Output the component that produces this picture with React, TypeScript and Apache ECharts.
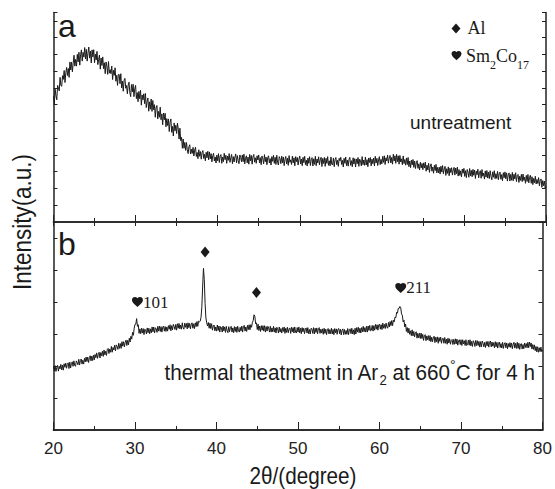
import React, { useEffect, useRef } from 'react';
import * as echarts from 'echarts';

// 2θ sampling: 20° .. 80°, every 0.1°
const TWO_THETA_START = 20;
const TWO_THETA_STEP = 0.1;

// (a) untreated sample intensity (a.u.) (one row per degree)
const untreated = [
  750, 706, 792, 753, 729, 815, 801, 782, 863, 814, // 20
  810, 873, 851, 904, 832, 890, 922, 874, 916, 863, // 21
  955, 907, 954, 896, 948, 995, 930, 970, 930, 1000, // 22
  955, 1013, 936, 999, 1027, 960, 1012, 984, 1041, 973, // 23
  1030, 960, 1009, 1044, 978, 1020, 949, 1027, 985, 1028, // 24
  950, 1001, 967, 1018, 939, 970, 996, 912, 978, 934, // 25
  985, 915, 950, 885, 955, 930, 881, 957, 888, 909, // 26
  885, 930, 850, 905, 875, 920, 840, 875, 815, 880, // 27
  880, 825, 885, 800, 840, 780, 846, 857, 798, 814, // 28
  765, 817, 834, 771, 748, 820, 776, 822, 748, 794, // 29
  815, 736, 772, 718, 779, 735, 786, 697, 758, 729, // 30
  765, 706, 767, 683, 719, 740, 661, 717, 673, 734, // 31
  660, 725, 670, 700, 625, 685, 695, 615, 660, 625, // 32
  685, 610, 645, 580, 650, 610, 649, 568, 617, 576, // 33
  615, 540, 595, 615, 535, 570, 513, 591, 544, 577, // 34
  528, 590, 555, 495, 560, 485, 505, 440, 495, 440, // 35
  475, 427, 474, 431, 408, 450, 461, 406, 434, 409, // 36
  445, 394, 429, 446, 391, 415, 378, 431, 392, 420, // 37
  375, 414, 426, 379, 404, 365, 416, 383, 422, 371, // 38
  418, 377, 408, 359, 396, 410, 364, 388, 352, 399, // 39
  365, 408, 355, 392, 402, 350, 388, 360, 410, 372, // 40
  398, 350, 393, 368, 408, 356, 383, 403, 348, 390, // 41
  358, 388, 406, 353, 396, 366, 348, 400, 386, 360, // 42
  400, 360, 405, 347, 380, 395, 353, 387, 345, 403, // 43
  365, 397, 345, 390, 403, 357, 383, 350, 395, 370, // 44
  400, 352, 384, 342, 394, 377, 347, 402, 360, 387, // 45
  342, 385, 395, 352, 378, 340, 390, 362, 398, 350, // 46
  386, 343, 398, 356, 340, 390, 378, 348, 393, 353, // 47
  388, 336, 374, 391, 346, 381, 338, 396, 356, 371, // 48
  343, 393, 353, 383, 335, 390, 360, 385, 340, 375, // 49
  394, 346, 376, 336, 386, 354, 392, 342, 369, 334, // 50
  382, 350, 390, 337, 372, 384, 334, 377, 344, 392, // 51
  336, 376, 353, 389, 341, 371, 386, 331, 379, 349, // 52
  385, 332, 380, 350, 390, 338, 365, 335, 388, 345, // 53
  340, 382, 330, 372, 385, 342, 368, 332, 380, 365, // 54
  386, 343, 368, 328, 380, 350, 388, 336, 370, 333, // 55
  373, 386, 338, 366, 330, 383, 346, 378, 328, 376, // 56
  348, 385, 332, 375, 365, 335, 390, 342, 370, 338, // 57
  388, 340, 372, 330, 382, 355, 385, 335, 375, 348, // 58
  382, 334, 392, 352, 380, 337, 370, 390, 342, 374, // 59
  347, 391, 356, 395, 343, 383, 364, 400, 351, 382, // 60
  397, 352, 385, 345, 404, 364, 395, 350, 403, 360, // 61
  395, 345, 397, 358, 377, 342, 394, 349, 373, 339, // 62
  382, 343, 385, 330, 364, 324, 369, 341, 373, 326, // 63
  363, 319, 353, 366, 320, 347, 310, 357, 323, 349, // 64
  312, 353, 322, 357, 303, 339, 311, 350, 296, 333, // 65
  347, 303, 328, 291, 338, 307, 344, 293, 326, 293, // 66
  327, 286, 333, 298, 337, 288, 316, 332, 278, 318, // 67
  290, 329, 276, 321, 295, 324, 280, 311, 326, 280, // 68
  322, 288, 327, 274, 313, 278, 305, 269, 316, 291, // 69
  320, 272, 306, 265, 313, 297, 267, 319, 276, 308, // 70
  270, 314, 279, 310, 260, 303, 282, 315, 264, 296, // 71
  306, 261, 313, 273, 292, 256, 305, 268, 307, 262, // 72
  297, 259, 306, 272, 252, 299, 267, 306, 258, 288, // 73
  260, 302, 252, 288, 298, 255, 283, 246, 294, 264, // 74
  299, 258, 293, 244, 281, 293, 245, 284, 249, 296, // 75
  246, 285, 257, 294, 241, 277, 284, 236, 273, 248, // 76
  284, 241, 286, 248, 267, 231, 278, 242, 284, 234, // 77
  267, 279, 231, 270, 223, 260, 234, 273, 227, 254, // 78
  230, 265, 216, 249, 257, 207, 247, 217, 244, 203, // 79
  215, // 80
];

// (b) after thermal treatment in Ar at 660 °C for 4 h (one row per degree)
const treated = [
  198, 185, 201, 183, 195, 202, 184, 199, 191, 205, // 20
  188, 203, 187, 207, 196, 209, 193, 205, 210, 192, // 21
  212, 194, 208, 213, 199, 216, 202, 199, 216, 211, // 22
  204, 221, 203, 217, 222, 206, 218, 206, 224, 213, // 23
  228, 214, 228, 211, 226, 232, 216, 231, 217, 234, // 24
  219, 236, 226, 241, 224, 236, 243, 225, 242, 232, // 25
  246, 230, 250, 235, 246, 233, 252, 255, 239, 253, // 26
  243, 261, 243, 258, 250, 265, 247, 266, 262, 252, // 27
  271, 255, 270, 255, 276, 262, 276, 260, 274, 281, // 28
  264, 280, 266, 287, 275, 293, 284, 305, 296, 318, // 29
  330, 331, 348, 324, 329, 302, 316, 301, 318, 303, // 30
  317, 298, 315, 313, 300, 319, 304, 318, 301, 316, // 31
  304, 322, 307, 322, 303, 319, 317, 305, 324, 309, // 32
  325, 308, 323, 306, 321, 325, 309, 323, 308, 322, // 33
  309, 326, 315, 329, 310, 326, 313, 330, 324, 314, // 34
  330, 312, 332, 318, 333, 316, 328, 315, 335, 319, // 35
  315, 334, 321, 333, 316, 335, 320, 333, 316, 331, // 36
  335, 318, 332, 317, 335, 323, 339, 324, 340, 338, // 37
  340, 352, 385, 450, 505, 470, 395, 350, 335, 325, // 38
  336, 318, 334, 317, 332, 312, 325, 328, 310, 322, // 39
  309, 328, 311, 325, 306, 323, 320, 306, 325, 310, // 40
  322, 305, 324, 310, 304, 323, 307, 320, 324, 306, // 41
  319, 304, 323, 308, 322, 305, 324, 310, 306, 321, // 42
  309, 325, 306, 323, 327, 309, 322, 308, 327, 314, // 43
  329, 313, 329, 321, 336, 342, 360, 356, 332, 335, // 44
  314, 331, 311, 325, 308, 326, 312, 326, 309, 326, // 45
  306, 323, 309, 324, 319, 306, 324, 306, 319, 307, // 46
  324, 306, 319, 303, 321, 316, 303, 322, 306, 317, // 47
  303, 320, 308, 322, 302, 318, 305, 321, 304, 316, // 48
  319, 302, 321, 307, 320, 303, 322, 306, 303, 320, // 49
  306, 322, 304, 318, 301, 320, 307, 318, 301, 316, // 50
  319, 303, 320, 301, 314, 300, 318, 316, 302, 320, // 51
  300, 318, 305, 319, 301, 317, 320, 302, 315, 303, // 52
  316, 299, 318, 302, 315, 298, 313, 317, 300, 314, // 53
  301, 318, 300, 314, 298, 317, 304, 316, 299, 315, // 54
  317, 301, 315, 297, 312, 316, 298, 314, 299, 311, // 55
  299, 317, 298, 314, 316, 301, 318, 300, 313, 298, // 56
  318, 300, 320, 306, 321, 304, 318, 303, 320, 307, // 57
  324, 307, 320, 306, 324, 306, 325, 311, 327, 310, // 58
  312, 327, 309, 326, 312, 330, 315, 329, 312, 328, // 59
  331, 315, 329, 314, 334, 318, 330, 317, 334, 322, // 60
  318, 336, 322, 339, 326, 342, 326, 343, 338, 353, // 61
  351, 368, 365, 380, 380, 386, 382, 363, 358, 338, // 62
  343, 322, 331, 308, 320, 303, 318, 299, 310, 295, // 63
  313, 294, 308, 291, 304, 307, 287, 302, 288, 302, // 64
  286, 303, 286, 299, 280, 295, 298, 279, 294, 282, // 65
  295, 279, 295, 276, 290, 276, 288, 293, 273, 290, // 66
  276, 291, 271, 289, 277, 290, 271, 285, 287, 271, // 67
  289, 271, 284, 268, 287, 272, 285, 268, 280, 283, // 68
  267, 283, 268, 285, 269, 284, 265, 279, 282, 267, // 69
  282, 264, 282, 269, 279, 264, 282, 264, 267, 281, // 70
  265, 282, 263, 277, 261, 279, 274, 261, 280, 264, // 71
  279, 264, 277, 259, 276, 260, 278, 271, 260, 274, // 72
  258, 276, 263, 277, 259, 274, 278, 260, 275, 262, // 73
  273, 257, 276, 260, 274, 256, 271, 275, 258, 270, // 74
  256, 274, 255, 269, 273, 257, 272, 254, 270, 259, // 75
  273, 258, 272, 254, 268, 274, 256, 271, 255, 274, // 76
  255, 271, 252, 268, 270, 253, 267, 254, 272, 258, // 77
  270, 257, 274, 257, 275, 261, 272, 253, 267, 252, // 78
  266, 248, 261, 244, 260, 243, 257, 245, 259, 245, // 79
  250, // 80
];

// Peak annotations in panel (b): [2θ, intensity, label, marker]
const peakMarks: [number, number, string, 'heart' | 'diamond'][] = [
  [30.3, 400, '101', 'heart'],
  [38.6, 556, '', 'diamond'],
  [44.9, 430, '', 'diamond'],
  [62.6, 444, '211', 'heart'],
];

const HEART_D =
  'M12 21.35L10.55 20.03C5.4 15.36 2 12.28 2 8.5C2 5.42 4.42 3 7.5 3C9.24 3 10.91 3.81 12 5.09C13.09 3.81 14.76 3 16.5 3C19.58 3 22 5.42 22 8.5C22 12.28 18.6 15.36 13.45 20.04Z';

echarts.graphic.registerShape('heart', echarts.graphic.extendPath(HEART_D, {}));

const SANS = 'Liberation Sans';
const SERIF = 'Liberation Serif';
const INK = '#1a1a1a';

const toPairs = (vals: number[]) =>
  vals.map((v, i) => [Number((TWO_THETA_START + i * TWO_THETA_STEP).toFixed(1)), v]);

const axisLine = { show: true, lineStyle: { color: '#222', width: 1.5 } };

function buildOption(): echarts.EChartsOption {
  const xBase = {
    type: 'value' as const,
    min: 20,
    max: 80,
    splitLine: { show: false },
    axisLine,
  };
  const yBase = {
    type: 'value' as const,
    min: 0,
    interval: 100,
    splitLine: { show: false },
    axisLabel: { show: false },
    axisLine,
    axisTick: { show: true, inside: true, length: 4, lineStyle: { color: '#222', width: 1 } },
  };
  const textStyle = (extra: any) => ({
    fill: INK,
    align: 'left',
    verticalAlign: 'middle',
    textAlign: 'left',
    textVerticalAlign: 'middle',
    ...extra,
  });
  return {
    animation: false,
    backgroundColor: '#ffffff',
    grid: [
      { left: 53.5, right: 9, top: 12.5, height: 209.5 },
      { left: 53.5, right: 9, top: 222, height: 208 },
    ],
    xAxis: [
      {
        ...xBase,
        gridIndex: 0,
        position: 'bottom',
        interval: 10,
        axisLabel: { show: false },
        axisTick: { show: true, inside: true, length: 7, lineStyle: { color: '#222' } },
        minorTick: { show: true, splitNumber: 2, length: 4, lineStyle: { color: '#222' } },
      },
      {
        ...xBase,
        gridIndex: 0,
        position: 'top',
        interval: 5,
        axisLabel: { show: false },
        axisTick: { show: true, inside: true, length: 4, lineStyle: { color: '#222' } },
      },
      {
        ...xBase,
        gridIndex: 1,
        position: 'bottom',
        interval: 10,
        axisLabel: {
          show: true,
          fontFamily: SANS,
          fontSize: 17,
          color: '#222',
          margin: 10,
        },
        axisTick: { show: true, inside: true, length: 8, lineStyle: { color: '#222' } },
        minorTick: { show: true, splitNumber: 2, length: 4, lineStyle: { color: '#222' } },
      },
      {
        ...xBase,
        gridIndex: 1,
        position: 'top',
        axisLabel: { show: false },
        axisTick: { show: false },
      },
    ],
    yAxis: [
      { ...yBase, gridIndex: 0, position: 'left', max: 1250 },
      { ...yBase, gridIndex: 0, position: 'right', max: 1250 },
      { ...yBase, gridIndex: 1, position: 'left', max: 650 },
      { ...yBase, gridIndex: 1, position: 'right', max: 650 },
    ],
    series: [
      {
        type: 'line',
        xAxisIndex: 0,
        yAxisIndex: 0,
        data: toPairs(untreated),
        showSymbol: false,
        symbol: 'none',
        lineStyle: { color: INK, width: 1 },
        clip: true,
      },
      {
        type: 'line',
        xAxisIndex: 2,
        yAxisIndex: 2,
        data: toPairs(treated),
        showSymbol: false,
        symbol: 'none',
        lineStyle: { color: INK, width: 1 },
        clip: true,
        markPoint: {
          silent: true,
          data: peakMarks.map(([x, y, label, kind]) => ({
            coord: [x, y],
            symbol: kind === 'heart' ? 'path://' + HEART_D : 'diamond',
            symbolSize: kind === 'heart' ? [11, 10] : [9, 11],
            itemStyle: { color: INK },
            label: {
              show: label !== '',
              formatter: label,
              position: 'right',
              distance: 0,
              fontFamily: SERIF,
              fontSize: 17,
              color: INK,
            },
          })),
        },
      },
    ],
    graphic: [
      {
        type: 'text',
        x: 58,
        y: 25.6,
        style: textStyle({ text: 'a', fontFamily: SANS, fontSize: 32 }),
      },
      {
        type: 'text',
        x: 58,
        y: 243.9,
        style: textStyle({ text: 'b', fontFamily: SANS, fontSize: 32 }),
      },
      {
        type: 'text',
        x: 410,
        y: 122.4,
        style: textStyle({ text: 'untreatment', fontFamily: SANS, fontSize: 19 }),
      },
      {
        type: 'text',
        x: 164.5,
        y: 372.4,
        scaleX: 0.94,
        style: textStyle({
          text: 'thermal theatment in Ar{sub|2} at 660{sup|°}C for 4 h',
          fontFamily: SANS,
          fontSize: 22,
          lineHeight: 30,
          rich: {
            sub: { fontFamily: SANS, fontSize: 14, lineHeight: 10, verticalAlign: 'bottom', fill: INK },
            sup: { fontFamily: SANS, fontSize: 15, lineHeight: 26, verticalAlign: 'top', fill: INK },
          },
        }),
      },
      {
        type: 'polygon',
        shape: { points: [[456, 23.5], [460.5, 28.5], [456, 33.5], [451.5, 28.5]] },
        style: { fill: INK },
      },
      {
        type: 'text',
        x: 467.5,
        y: 28.2,
        style: textStyle({ text: 'Al', fontFamily: SERIF, fontSize: 18 }),
      },
      {
        type: 'heart',
        x: 450.5,
        y: 49.5,
        scaleX: 0.5,
        scaleY: 0.5,
        style: { fill: INK },
      } as any,
      {
        type: 'text',
        x: 466,
        y: 55.6,
        style: textStyle({
          text: 'Sm{sub|2}Co{sub|17}',
          fontFamily: SERIF,
          fontSize: 18,
          lineHeight: 30,
          rich: {
            sub: { fontFamily: SERIF, fontSize: 12, lineHeight: 10, verticalAlign: 'bottom', fill: INK },
          },
        }),
      },
      {
        type: 'text',
        x: 22,
        y: 222,
        rotation: Math.PI / 2,
        scaleX: 0.9,
        style: textStyle({
          text: 'Intensity(a.u.)',
          fontFamily: SANS,
          fontSize: 25,
          align: 'center',
          textAlign: 'center',
        }),
      },
      {
        type: 'text',
        x: 303,
        y: 476.5,
        scaleX: 0.9,
        style: textStyle({
          text: '2θ/(degree)',
          fontFamily: SANS,
          fontSize: 23,
          align: 'center',
          textAlign: 'center',
        }),
      },
    ],
  } as echarts.EChartsOption;
}

export default function App() {
  const ref = useRef<HTMLDivElement>(null);
  useEffect(() => {
    if (!ref.current) return;
    const chart = echarts.init(ref.current, null, { renderer: 'svg' });
    chart.setOption(buildOption());
    return () => chart.dispose();
  }, []);
  return (
    <div
      ref={ref}
      style={{ position: 'fixed', left: 0, top: 0, width: 555, height: 489, background: '#fff' }}
    />
  );
}
